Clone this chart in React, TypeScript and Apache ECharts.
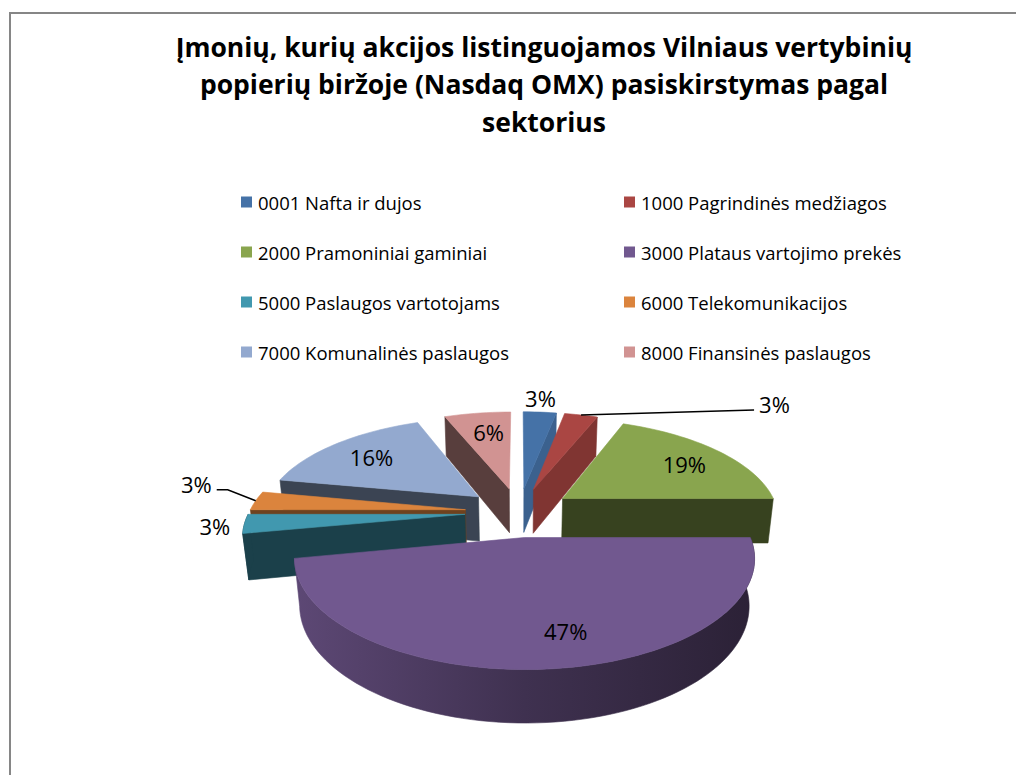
import React, { useEffect, useRef } from 'react';
import * as echarts from 'echarts';

// ---------- data ----------
const TITLE_LINES = [
  'Įmonių, kurių akcijos listinguojamos Vilniaus vertybinių',
  'popierių biržoje (Nasdaq OMX) pasiskirstymas pagal',
  'sektorius',
];
const CATEGORIES = [
  '0001 Nafta ir dujos',
  '1000 Pagrindinės medžiagos',
  '2000 Pramoniniai gaminiai',
  '3000 Plataus vartojimo prekės',
  '5000 Paslaugos vartotojams',
  '6000 Telekomunikacijos',
  '7000 Komunalinės paslaugos',
  '8000 Finansinės paslaugos',
];
const SHARE_PERCENT = [3, 3, 19, 47, 3, 3, 16, 6];

// ---------- styles / layout ----------
const COLORS = ['#4572A7', '#AA4643', '#89A54E', '#71588F', '#4198AF', '#DB843D', '#93A9CF', '#D19392'];
const SIDE_SHADE = [0.85, 0.75, 0.4, 0.5, 0.42, 0.5, 0.4, 0.42];
const RIM_SHADE = [0.5, 0.5, 0.42, 0.55, 0.42, 0.5, 0.4, 0.42];
const LABEL_MODE = ['outside', 'leader', 'inside', 'inside', 'outside', 'leader', 'inside', 'inside'];
const LABEL_NUDGE = [[0, 0], [0, 0], [3, 2], [22, 0], [0, 2], [0, 0], [2, 1], [4, 2]];
const LEADER_OFFSETS: Record<number, number[][]> = {
  1: [[173, -5]],
  5: [[-28, -11], [-39, -11]],
};
const FONT = "'Open Sans', 'Noto Sans', sans-serif";

const PHI = (27 * Math.PI) / 180;
const SIN_P = Math.sin(PHI);
const COS_P = Math.cos(PHI);
const CAM_DIST = 5;
const SCALE = 216;
const EXPLODE = 0.25;
const DEPTH = 0.24;
const CX = 519;
const CY = 512;

function project(u: number, v: number, h: number): number[] {
  const zc = -v * COS_P + h * SIN_P;
  const s = CAM_DIST / (CAM_DIST - zc);
  return [CX + SCALE * u * s, CY - SCALE * (v * SIN_P + h * COS_P) * s];
}

function shade(hex: string, f: number): string {
  const n = parseInt(hex.slice(1), 16);
  const r = Math.round(((n >> 16) & 255) * f);
  const g = Math.round(((n >> 8) & 255) * f);
  const b = Math.round((n & 255) * f);
  return `rgb(${r},${g},${b})`;
}

const TOTAL = SHARE_PERCENT.reduce((a, b) => a + b, 0);
const STARTS: number[] = [];
const ENDS: number[] = [];
{
  let acc = 0;
  SHARE_PERCENT.forEach((v) => {
    STARTS.push((acc / TOTAL) * Math.PI * 2);
    acc += v;
    ENDS.push((acc / TOTAL) * Math.PI * 2);
  });
}

function sliceGeom(i: number) {
  const a1 = STARTS[i];
  const a2 = ENDS[i];
  const m = (a1 + a2) / 2;
  return { a1, a2, m, ou: EXPLODE * Math.sin(m), ov: EXPLODE * Math.cos(m) };
}

function poly(points: number[][], fill: any) {
  return {
    type: 'polygon',
    shape: { points },
    style: { fill, stroke: fill, lineWidth: 0.6, lineJoin: 'round' },
  };
}

function renderSlice(i: number) {
  const { a1, a2, ou, ov } = sliceGeom(i);
  const base = COLORS[i];
  const n = Math.max(2, Math.ceil((a2 - a1) / (Math.PI / 90)));
  const thetas: number[] = [];
  for (let k = 0; k <= n; k++) thetas.push(a1 + ((a2 - a1) * k) / n);
  const children: any[] = [];

  // radial faces (visible when the outward normal points toward the viewer)
  const faces: [number, number][] = [
    [a1, Math.sin(a1)],
    [a2, -Math.sin(a2)],
  ];
  faces.forEach(([a, nv]) => {
    if (nv >= -1e-6) return;
    const eu = ou + Math.sin(a);
    const ev = ov + Math.cos(a);
    children.push(
      poly(
        [project(ou, ov, 0), project(eu, ev, 0), project(eu, ev, -DEPTH), project(ou, ov, -DEPTH)],
        shade(base, SIDE_SHADE[i])
      )
    );
  });

  // outer rim, visible where cos(theta) < 0
  let run: number[] = [];
  const flush = () => {
    if (run.length >= 2) {
      const top = run.map((t) => project(ou + Math.sin(t), ov + Math.cos(t), 0));
      const bottom = run.map((t) => project(ou + Math.sin(t), ov + Math.cos(t), -DEPTH)).reverse();
      let fill: any = shade(base, RIM_SHADE[i]);
      if (a2 - a1 > Math.PI / 2) {
        fill = new echarts.graphic.LinearGradient(0, 0, 1, 0, [
          { offset: 0, color: shade(base, 0.82) },
          { offset: 0.5, color: shade(base, 0.56) },
          { offset: 1, color: shade(base, 0.38) },
        ]);
      }
      children.push(poly(top.concat(bottom), fill));
    }
    run = [];
  };
  thetas.forEach((t) => {
    if (Math.cos(t) < 0.001) run.push(t);
    else flush();
  });
  flush();

  // top face
  const topPts = [project(ou, ov, 0)].concat(
    thetas.map((t) => project(ou + Math.sin(t), ov + Math.cos(t), 0))
  );
  children.push(poly(topPts, base));
  return { type: 'group', children };
}

function renderLabel(i: number) {
  const { m, ou, ov } = sliceGeom(i);
  const text = `${Math.round((SHARE_PERCENT[i] / TOTAL) * 100)}%`;
  const font = `22px ${FONT}`;
  const mode = LABEL_MODE[i];
  const children: any[] = [];
  let x = 0;
  let y = 0;
  let align = 'center';
  let vAlign = 'middle';
  if (mode === 'inside') {
    [x, y] = project(ou + 0.75 * Math.sin(m), ov + 0.75 * Math.cos(m), 0);
  } else if (mode === 'outside') {
    const A = project(ou + 1.05 * Math.sin(m), ov + 1.05 * Math.cos(m), 0);
    const O = project(ou, ov, 0);
    const dx = A[0] - O[0];
    const dy = A[1] - O[1];
    x = A[0];
    y = A[1];
    if (Math.abs(dx) > Math.abs(dy)) {
      align = dx > 0 ? 'left' : 'right';
      x += dx > 0 ? 3 : -3;
    } else {
      vAlign = dy < 0 ? 'bottom' : 'top';
    }
  } else {
    const R = project(ou + Math.sin(m), ov + Math.cos(m), 0);
    const offs = LEADER_OFFSETS[i] || [];
    const pts = [R].concat(offs.map((o) => [R[0] + o[0], R[1] + o[1]]));
    children.push({
      type: 'polyline',
      shape: { points: pts },
      style: { stroke: '#000', lineWidth: 1.5, fill: null },
    });
    const last = pts[pts.length - 1];
    const prev = pts[pts.length - 2];
    const right = last[0] >= prev[0];
    align = right ? 'left' : 'right';
    x = last[0] + (right ? 5 : -5);
    y = last[1] - 6;
  }
  x += LABEL_NUDGE[i][0];
  y += LABEL_NUDGE[i][1];
  children.push({
    type: 'text',
    x,
    y,
    style: { text, font, fill: '#000', align, verticalAlign: vAlign, textAlign: align, textVerticalAlign: vAlign },
  });
  return { type: 'group', children };
}

function buildOption() {
  const depthOrder = CATEGORIES.map((_, i) => i).sort(
    (p, q) => -sliceGeom(p).ov * COS_P - -sliceGeom(q).ov * COS_P
  );
  const sliceSeries = CATEGORIES.map((name, i) => ({
    type: 'custom',
    name,
    coordinateSystem: 'none',
    z: 2 + depthOrder.indexOf(i),
    silent: true,
    itemStyle: { color: COLORS[i] },
    data: [[i]],
    renderItem: () => renderSlice(i),
  }));
  const labelSeries = {
    type: 'custom',
    name: 'labels',
    coordinateSystem: 'none',
    z: 30,
    silent: true,
    data: CATEGORIES.map((_, i) => [i]),
    renderItem: (_params: any, api: any) => renderLabel(api.value(0)),
  };
  const legendBase = {
    orient: 'vertical',
    top: 187,
    padding: 5,
    itemWidth: 11,
    itemHeight: 11,
    itemGap: 30,
    icon: 'rect',
    selectedMode: false,
    textStyle: { fontSize: 18.5, fontFamily: FONT, color: '#000', lineHeight: 20, padding: [0, 0, 0, 1] },
  };
  return {
    animation: false,
    backgroundColor: '#fff',
    legend: [
      { ...legendBase, left: 236, data: CATEGORIES.filter((_, i) => i % 2 === 0) },
      { ...legendBase, left: 619, data: CATEGORIES.filter((_, i) => i % 2 === 1) },
    ],
    graphic: [
      {
        type: 'rect',
        shape: { x: 10, y: 13, width: 1100, height: 800 },
        style: { fill: 'none', stroke: '#868686', lineWidth: 2 },
        silent: true,
      },
      {
        type: 'text',
        x: 544,
        y: 28,
        style: {
          text: TITLE_LINES.join('\n'),
          font: `bold 26.5px ${FONT}`,
          lineHeight: 37.5,
          fill: '#000',
          align: 'center',
          textAlign: 'center',
          verticalAlign: 'top',
          textVerticalAlign: 'top',
        },
      },
    ],
    series: [...sliceSeries, labelSeries],
  };
}

export default function App() {
  const ref = useRef<HTMLDivElement>(null);
  useEffect(() => {
    if (!ref.current) return;
    const chart = echarts.init(ref.current, undefined, { renderer: 'svg' });
    chart.setOption(buildOption() as any);
    return () => chart.dispose();
  }, []);
  return (
    <div
      ref={ref}
      style={{ position: 'absolute', left: 0, top: 0, width: 1016, height: 775, background: '#fff' }}
    />
  );
}
